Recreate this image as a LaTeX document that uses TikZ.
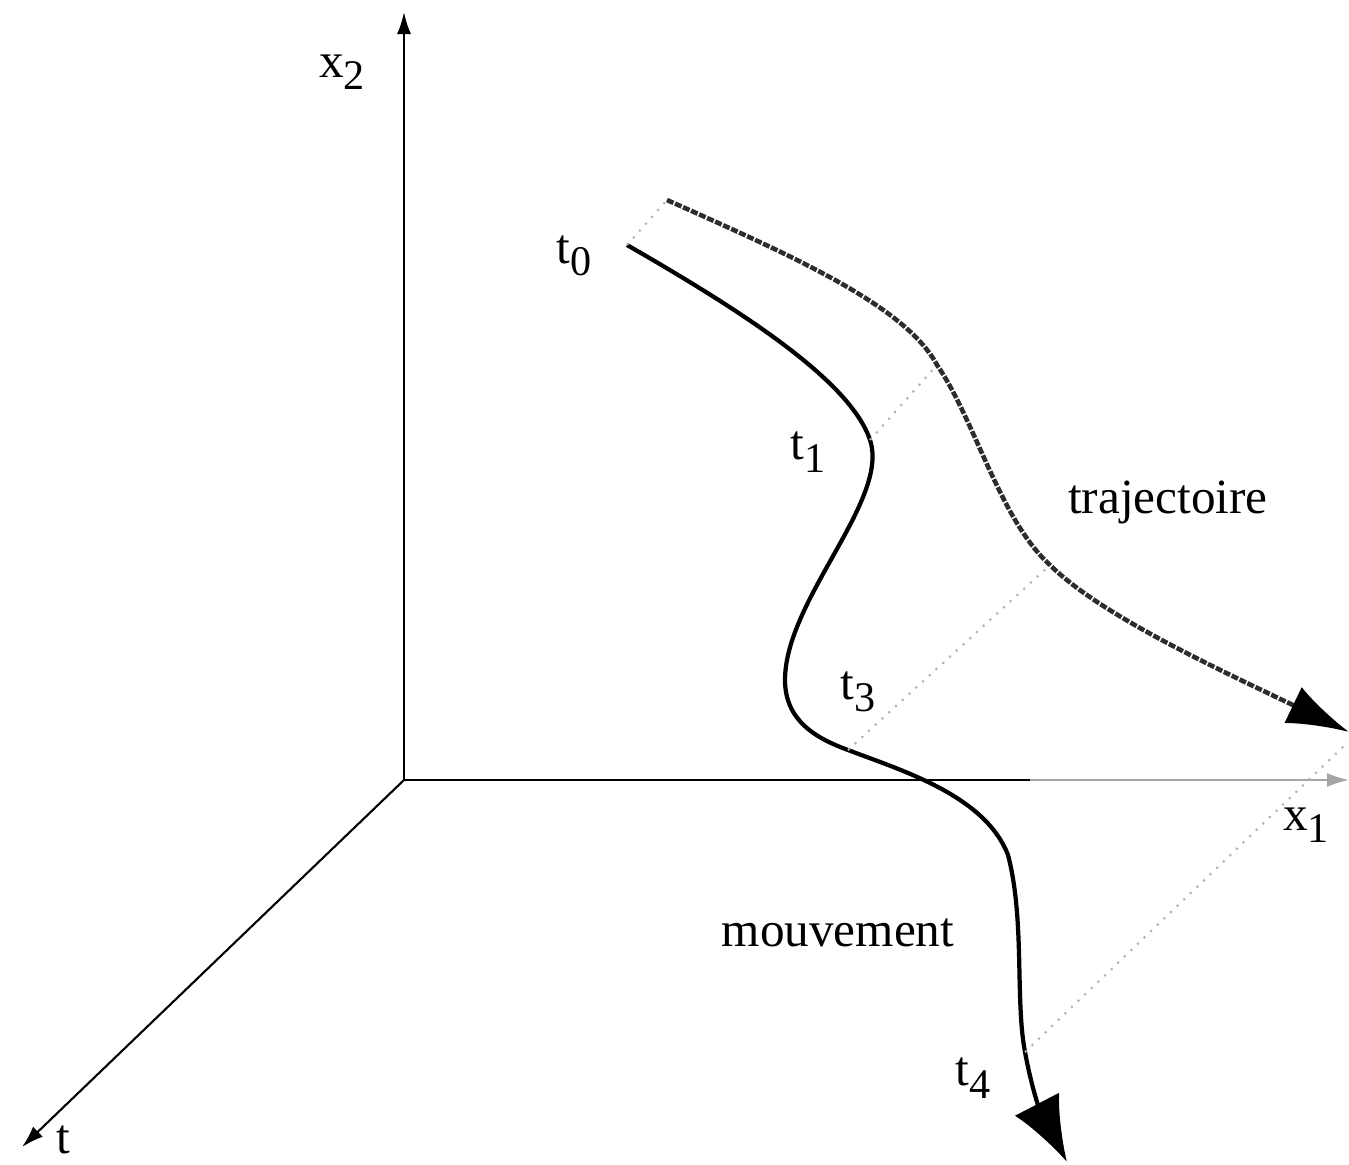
\documentclass[tikz,border=0pt]{standalone}
\usepackage{fontspec}
\setmainfont{Liberation Serif}
\usetikzlibrary{arrows.meta}
\newcommand{\lowsub}[1]{\raisebox{-0.55ex}{\fontsize{12}{12}\selectfont #1}}

\begin{document}
\begin{tikzpicture}[x=0.01cm,y=-0.01cm,font=\fontsize{14}{16}\selectfont,
		axis/.style={line width=0.6pt,-{Latex[length=2.2mm,width=1.4mm]}},
		mouv/.style={line width=1.2pt,-{Latex[length=6.5mm,width=5mm]}},
		traj/.style={line width=1.3pt,gray!35!black,dash pattern=on 2pt off 0.5pt,-{Latex[length=6.2mm,width=4mm,black]}},
		proj/.style={gray!60,dotted,line width=0.6pt},
		lab/.style={inner sep=1pt}]
			\useasboundingbox (0,0) rectangle (1349,1164);
			\coordinate (O) at (404,780);
			\coordinate (X2) at (404,12);
			\coordinate (Xm) at (1030,780);
			\coordinate (X1) at (1349,780);
			\coordinate (T) at (22,1147);

			\draw[line width=0.6pt] (O)--(Xm);
			\draw[axis,gray!70] (Xm)--(X1);
			\draw[axis] (O)--(X2);
			\draw[axis] (O)--(T);

			\coordinate (m0) at (627,245);
			\coordinate (m1) at (870,440);
			\coordinate (m2) at (785,680);
			\coordinate (m3) at (848,750);
			\coordinate (m5) at (1008,855);
			\coordinate (m4) at (1025,1052);
			\coordinate (e) at (1067,1162);
			\coordinate (p0) at (667,200);
			\coordinate (p1) at (937,365);
			\coordinate (p3) at (1050,565);
			\coordinate (p4) at (1349,732);

			\draw[mouv] (m0) .. controls (740,310) and (850,380) .. (m1)
				.. controls (890,500) and (785,600) .. (m2)
				.. controls (785,720) and (815,738) .. (m3)
				.. controls (900,770) and (985,795) .. (m5)
				.. controls (1025,920) and (1015,1000) .. (m4)
				.. controls (1032,1090) and (1040,1110) .. (e);
			\draw[traj] (p0) .. controls (790,255) and (905,305) .. (p1)
				.. controls (975,420) and (1000,520) .. (p3)
				.. controls (1100,615) and (1220,670) .. (p4);

			\draw[proj] (m0)--(p0);
			\draw[proj] (m1)--(p1);
			\draw[proj] (m3)--(p3);
			\draw[proj] (m4)--(1345,745);

			\node[lab] (lx2) at (342,72) {x\lowsub{2}};
			\node[lab] (lx1) at (1306,825) {x\lowsub{1}};
			\node[lab] (lt) at (63,1140) {t};
			\node[lab] (l0) at (574,256) {t\lowsub{0}};
			\node[lab] (l1) at (808,452) {t\lowsub{1}};
			\node[lab] (l3) at (858,692) {t\lowsub{3}};
			\node[lab] (l4) at (973,1078) {t\lowsub{4}};
			\node[lab] (tr) at (1168,502) {trajectoire};
			\node[lab] (mv) at (838,933) {mouvement};
		\end{tikzpicture}
\end{document}
